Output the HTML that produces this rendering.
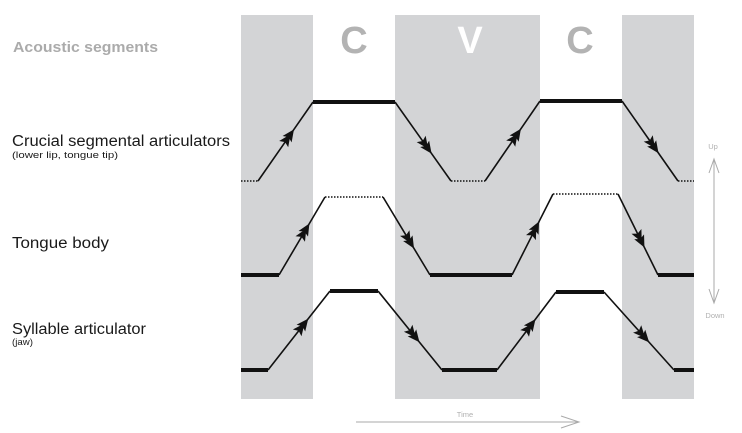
<!DOCTYPE html>
<html><head><meta charset="utf-8"><style>
html,body{margin:0;padding:0;background:#fff;}
svg{display:block;}
</style></head><body>
<svg width="742" height="433" viewBox="0 0 742 433" xmlns="http://www.w3.org/2000/svg">
<defs>
<marker id="a" markerUnits="userSpaceOnUse" markerWidth="30" markerHeight="30" viewBox="-15 -15 30 30" refX="0" refY="0" orient="auto" overflow="visible">
<path d="M10,0 L-2,-5.5 L0.5,0 L-2,5.5 Z M4,0 L-8,-5.5 L-5.5,0 L-8,5.5 Z" fill="#111"/>
</marker>
</defs>
<!-- bands -->
<rect x="241" y="15" width="72" height="384" fill="#d3d4d6"/>
<rect x="395" y="15" width="145" height="384" fill="#d3d4d6"/>
<rect x="622" y="15" width="72" height="384" fill="#d3d4d6"/>
<!-- segment letters -->
<g font-family="Liberation Sans, sans-serif" font-size="38" font-weight="bold" text-anchor="middle">
<text x="354" y="53" fill="#b3b3b3">C</text>
<text x="470" y="53" fill="#ffffff">V</text>
<text x="580" y="53" fill="#b3b3b3">C</text>
</g>
<!-- labels -->
<g font-family="Liberation Sans, sans-serif">
<text x="13" y="52" font-size="15" font-weight="bold" fill="#ababab" textLength="145" lengthAdjust="spacingAndGlyphs">Acoustic segments</text>
<text x="12" y="146" font-size="15.5" fill="#1a1a1a" textLength="218" lengthAdjust="spacingAndGlyphs">Crucial segmental articulators</text>
<text x="12" y="158" font-size="9.5" fill="#1a1a1a" textLength="106" lengthAdjust="spacingAndGlyphs">(lower lip, tongue tip)</text>
<text x="12" y="248" font-size="15.5" fill="#1a1a1a" textLength="97" lengthAdjust="spacingAndGlyphs">Tongue body</text>
<text x="12" y="334" font-size="15.5" fill="#1a1a1a" textLength="134" lengthAdjust="spacingAndGlyphs">Syllable articulator</text>
<text x="12" y="345" font-size="9.5" fill="#1a1a1a" textLength="21" lengthAdjust="spacingAndGlyphs">(jaw)</text>
<text x="713" y="149" font-size="7.5" fill="#b0b0b0" text-anchor="middle">Up</text>
<text x="715" y="318" font-size="7.5" fill="#b0b0b0" text-anchor="middle">Down</text>
<text x="465" y="417" font-size="7.5" fill="#b0b0b0" text-anchor="middle">Time</text>
</g>
<!-- up/down arrow -->
<g stroke="#aaaaaa" stroke-width="1" fill="none">
<line x1="714" y1="159" x2="714" y2="303"/>
<polyline points="709,173 714,159 719,173"/>
<polyline points="709,289 714,303 719,289"/>
<line x1="356" y1="422" x2="579" y2="422"/>
<polyline points="561,416 579,422 561,428"/>
</g>
<!-- dotted segments -->
<g stroke="#111" stroke-width="1.5" stroke-dasharray="1.5 1.5" fill="none">
<line x1="241" y1="181" x2="258" y2="181"/>
<line x1="451" y1="181" x2="485" y2="181"/>
<line x1="678" y1="181" x2="694" y2="181"/>
<line x1="325" y1="197" x2="383" y2="197"/>
<line x1="553" y1="194" x2="618" y2="194"/>
</g>
<!-- thick segments -->
<g stroke="#111" stroke-width="4" fill="none">
<line x1="313" y1="102" x2="395" y2="102"/>
<line x1="540" y1="101" x2="622" y2="101"/>
<line x1="241" y1="275" x2="279" y2="275"/>
<line x1="430" y1="275" x2="512" y2="275"/>
<line x1="658" y1="275" x2="694" y2="275"/>
<line x1="241" y1="370" x2="268" y2="370"/>
<line x1="330" y1="291" x2="378" y2="291"/>
<line x1="442" y1="370" x2="497" y2="370"/>
<line x1="556" y1="292" x2="604" y2="292"/>
<line x1="674" y1="370" x2="694" y2="370"/>
</g>
<!-- thin slopes with double arrowheads -->
<g stroke="#111" stroke-width="1.6" fill="none" marker-mid="url(#a)">
<path d="M258,181 L288.25,137.55 L313,102"/>
<path d="M395,102 L425.8,145.45 L451,181"/>
<path d="M485,181 L515.25,137 L540,101"/>
<path d="M622,101 L652.8,145 L678,181"/>
<path d="M279,275 L304.3,232.1 L325,197"/>
<path d="M383,197 L408.85,239.9 L430,275"/>
<path d="M512,275 L534.55,230.45 L553,194"/>
<path d="M618,194 L640,238.55 L658,275"/>
<path d="M268,370 L302.1,326.55 L330,291"/>
<path d="M378,291 L413.2,334.45 L442,370"/>
<path d="M497,370 L529.45,327.1 L556,292"/>
<path d="M604,292 L642.5,334.9 L674,370"/>
</g>
</svg>
</body></html>
